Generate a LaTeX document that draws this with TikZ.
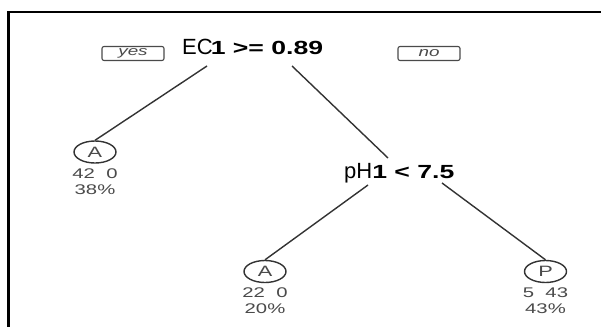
\documentclass[tikz,border=0pt]{standalone}
\usepackage{fontspec}
\setmainfont{Liberation Sans}
\usepackage{graphicx}
\usetikzlibrary{shapes.geometric}
\newcommand{\sx}[1]{\scalebox{1.45}[1]{#1}}
\definecolor{leafgray}{HTML}{4A4A4A}
\definecolor{linegray}{HTML}{333333}
\begin{document}
\begin{tikzpicture}[x=1pt,y=-1pt,
  leaf/.style={draw=linegray, line width=1.4pt, ellipse, minimum width=42pt, minimum height=22pt, inner sep=0pt, text=leafgray, font=\fontsize{15}{15}\selectfont},
  leaflabel/.style={text=leafgray, inner sep=0pt, font=\fontsize{14}{14}\selectfont},
  yesno/.style={draw=leafgray, line width=1.1pt, rounded corners=2pt, minimum width=62pt, minimum height=14pt, inner sep=0pt, text=leafgray, font=\itshape\fontsize{13}{13}\selectfont},
  edge/.style={draw=linegray, line width=1.4pt},
  split/.style={inner sep=0pt, anchor=base west}]
\useasboundingbox (0,0) rectangle (601,327);
\fill[white] (0,0) rectangle (601,327);
% frame
\draw[line width=2.5pt] (601,12) -- (8.5,12) -- (8.5,327);
% root split
\node[split] (root) at (182,54) {{\fontsize{22}{22}\selectfont EC}\kern-2pt\scalebox{1.4}[1]{\bfseries\fontsize{19}{19}\selectfont 1 >= 0.89}};
\node[yesno] (yes) at (133,53.5) {\sx{yes}};
\node[yesno] (no) at (429,53.5) {\sx{no}};
% second split
\node[split] (ph) at (344,178) {{\fontsize{22}{22}\selectfont pH}\scalebox{1.4}[1]{\bfseries\fontsize{19}{19}\selectfont 1 < 7.5}};
% leaves
\node[leaf] (a1) at (95,152) {\sx{A}};
\node[leaflabel] (a1n) at (95,174) {\sx{42\ \ 0}};
\node[leaflabel] (a1p) at (95,190) {\sx{38\%}};
\node[leaf] (a2) at (265,271.5) {\sx{A}};
\node[leaflabel] (a2n) at (265,293) {\sx{22\ \ 0}};
\node[leaflabel] (a2p) at (265,309) {\sx{20\%}};
\node[leaf] (p) at (545.5,271.5) {\sx{P}};
\node[leaflabel] (pn) at (545.5,293) {\sx{5\ \ 43}};
\node[leaflabel] (pp) at (545.5,309) {\sx{43\%}};
% connector ends below the split labels
\coordinate (rootL) at (207,66);
\coordinate (rootR) at (292,66);
\coordinate (phIn) at (388,158);
\coordinate (phL) at (368,185);
\coordinate (phR) at (442,183);
\draw[edge] (rootL) -- (a1.north);
\draw[edge] (rootR) -- (phIn);
\draw[edge] (phL) -- (a2.north);
\draw[edge] (phR) -- (p.north);
\end{tikzpicture}
\end{document}
